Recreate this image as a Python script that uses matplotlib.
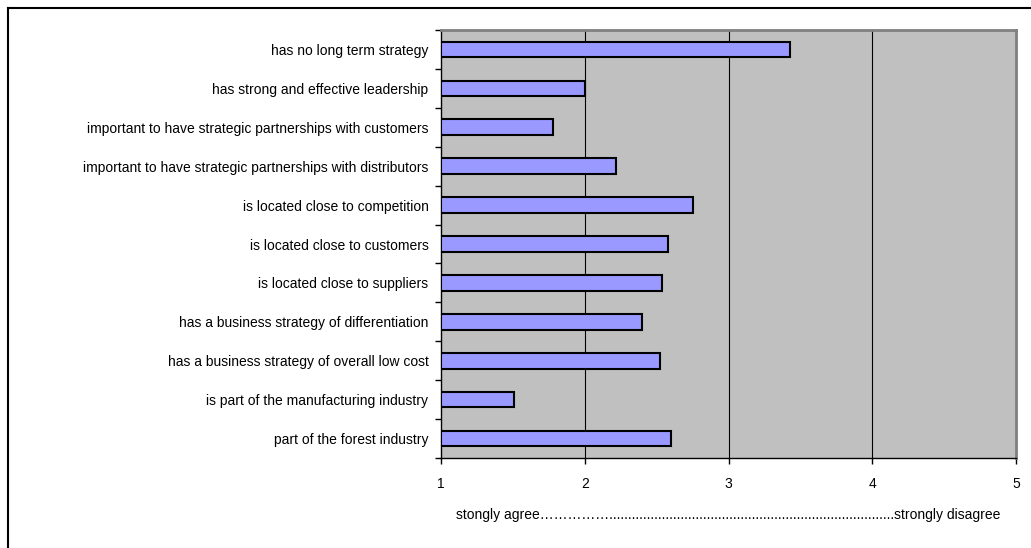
import numpy as np
import matplotlib
matplotlib.use("Agg")
import matplotlib.pyplot as plt
from matplotlib.lines import Line2D

plt.rcParams['font.family'] = ['Liberation Sans', 'DejaVu Sans']

# categories, top to bottom
items = [
    "has no long term strategy",
    "has strong and effective leadership",
    "important to have strategic partnerships with customers",
    "important to have strategic partnerships with distributors",
    "is located close to competition",
    "is located close to customers",
    "is located close to suppliers",
    "has a business strategy of differentiation",
    "has a business strategy of overall low cost",
    "is part of the manufacturing industry",
    "part of the forest industry",
]
scores = [3.43, 2.00, 1.78, 2.22, 2.75, 2.58, 2.54, 2.40, 2.52, 1.51, 2.60]
xticks = [1, 2, 3, 4, 5]
xlabel = ("stongly agree" + "\u2026" * 5 + "." * 76 + "strongly disagree")

fig = plt.figure(figsize=(10.31, 5.48), dpi=100)
ax = fig.add_axes([441 / 1031, 1 - 458 / 548, (1016 - 441) / 1031, (458 - 30) / 548])

ypos = np.arange(len(items))
base = 1
ax.barh(ypos, np.array(scores) - base, left=base, height=0.4,
        color='#9999FF', edgecolor='black', linewidth=1.5, zorder=3)

ax.set_facecolor('#C0C0C0')
ax.set_xlim(1, 5)
ax.set_ylim(len(items) - 0.5, -0.5)
ax.set_xticks(xticks)
ax.set_xticklabels([str(t) for t in xticks], fontsize=10)
for g in xticks[1:-1]:
    ax.axvline(g, color='black', linewidth=0.8, zorder=1)

# labels at category centres, tick marks at boundaries
ax.set_yticks(ypos)
ax.set_yticklabels(items, fontsize=10)
ax.tick_params(axis='y', length=0, pad=9)
ax.set_yticks(np.arange(len(items) + 1) - 0.5, minor=True)
ax.tick_params(axis='y', which='minor', length=4, width=1, direction='out')
ax.tick_params(axis='x', length=4, width=1, direction='out', pad=10)

ax.set_xlabel(xlabel, fontsize=10, labelpad=12)

for s in ['top', 'right']:
    ax.spines[s].set_color('#808080')
    ax.spines[s].set_linewidth(2)
for s in ['left', 'bottom']:
    ax.spines[s].set_color('black')
    ax.spines[s].set_linewidth(1)

# outer chart border (only top and left visible)
fig.add_artist(Line2D([8 / 1031, 1.0], [1 - 8 / 548, 1 - 8 / 548], color='black', linewidth=1.5))
fig.add_artist(Line2D([8 / 1031, 8 / 1031], [0.0, 1 - 8 / 548], color='black', linewidth=1.5))

fig.savefig('out.png', dpi=100)
